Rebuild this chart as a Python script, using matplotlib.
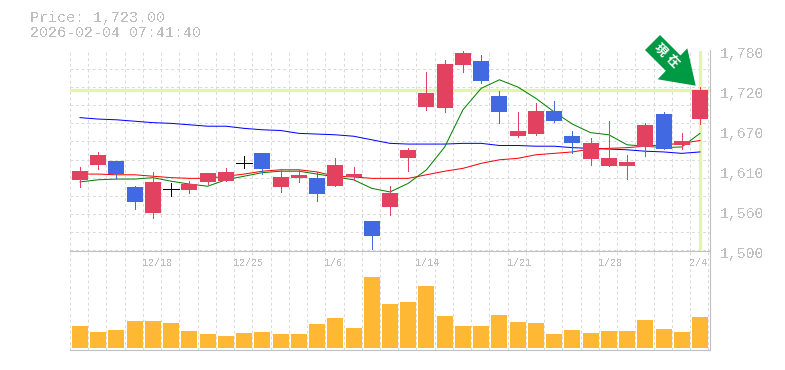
import numpy as np
import matplotlib
matplotlib.use('Agg')
import matplotlib.pyplot as plt
from matplotlib.patches import Polygon

plt.rcParams['text.antialiased'] = False

last_price = 1724
price_title = 'Price: 1,723.00'
time_title = '2026-02-04 07:41:40'

opens = [1599, 1620, 1625, 1589, 1553, 1586, 1585, 1596, 1597, 1622, 1636, 1589, 1602, 1601, 1590, 1603, 1541, 1561,
         1630, 1701, 1700, 1760, 1765, 1716, 1660, 1663, 1695, 1660, 1628, 1618, 1618, 1645, 1691, 1648, 1684]
highs = [1617, 1638, 1625, 1590, 1610, 1594, 1597, 1608, 1615, 1632, 1636, 1613, 1613, 1610, 1630, 1617, 1541, 1590,
         1643, 1750, 1767, 1779, 1774, 1723, 1694, 1706, 1709, 1667, 1658, 1681, 1634, 1678, 1694, 1664, 1729]
lows = [1589, 1614, 1601, 1558, 1545, 1576, 1580, 1593, 1597, 1615, 1607, 1582, 1596, 1569, 1590, 1599, 1502, 1550,
        1611, 1697, 1694, 1750, 1734, 1678, 1659, 1662, 1680, 1636, 1620, 1618, 1600, 1632, 1642, 1642, 1677]
closes = [1611, 1634, 1607, 1568, 1596, 1586, 1593, 1608, 1610, 1622, 1614, 1603, 1606, 1579, 1620, 1607, 1520, 1580,
          1641, 1720, 1761, 1776, 1737, 1694, 1667, 1695, 1681, 1650, 1650, 1630, 1624, 1676, 1642, 1653, 1724]
volumes = [22, 16, 18, 27, 27, 25, 17, 14, 12, 15, 16, 14, 14, 24, 30, 20, 71, 44,
           46, 62, 32, 22, 22, 33, 26, 25, 14, 18, 15, 17, 17, 28, 19, 16, 31]
ma_short = [1596, 1599, 1600, 1600, 1602, 1597, 1593, 1590, 1599, 1604, 1609, 1611, 1611, 1607, 1603, 1599, 1587, 1582,
            1594, 1613, 1645, 1697, 1727, 1739, 1729, 1713, 1694, 1677, 1665, 1662, 1648, 1646, 1644, 1645, 1664]
ma_mid = [1607, 1607, 1606, 1606, 1604, 1602, 1601, 1601, 1604, 1607, 1611, 1613, 1613, 1610, 1604, 1603, 1601, 1601,
          1601, 1606, 1611, 1615, 1622, 1627, 1629, 1634, 1636, 1638, 1642, 1643, 1644, 1646, 1648, 1650, 1654]
ma_long = [1686, 1684, 1683, 1681, 1679, 1678, 1676, 1674, 1674, 1671, 1669, 1668, 1664, 1663, 1662, 1660, 1655, 1650,
           1649, 1649, 1649, 1650, 1650, 1647, 1647, 1646, 1646, 1644, 1643, 1642, 1641, 1639, 1638, 1636, 1638]

date_index = [4, 9, 14, 19, 24, 29, 34]
date_labels = ['12/18', '12/25', '1/6', '1/14', '1/21', '1/28', '2/4']
price_ticks = [1500, 1556, 1612, 1668, 1724, 1780]
price_labels = ['1,500', '1,560', '1,610', '1,670', '1,720', '1,780']

up_color = '#e2415f'
down_color = '#4169e1'
vol_color = '#ffb833'
grid_color = '#d9d9d9'
frame_color = '#c0c0c0'
text_color = '#bdbdbd'
mark_color = '#e3f5aa'
arrow_color = '#009944'

W, H = 785, 370
fig = plt.figure(figsize=(W / 100, H / 100), dpi=100)
ax = fig.add_axes([70 / W, 1 - 250.5 / H, 640 / W, 200 / H])
ax_vol = fig.add_axes([70 / W, 1 - 350 / H, 640 / W, 99.5 / H])
ax_vol.set_facecolor('none')

x = np.arange(len(closes))
xmin, xmax = -0.548, 34.548

for a in (ax, ax_vol):
    a.set_xlim(xmin, xmax)
    a.set_xticks(np.arange(xmin, 34.5, 1))
    a.tick_params(length=0, labelbottom=False, labelleft=False)
    a.grid(axis='x', color=grid_color, linestyle=(0, (2.8, 2.8)), linewidth=0.72)
    a.set_axisbelow(True)
    for s in a.spines.values():
        s.set_visible(False)
    a.spines['bottom'].set_visible(True)
    a.spines['right'].set_visible(True)
    a.spines['bottom'].set_color(frame_color)
    a.spines['right'].set_color(frame_color)

ax.set_ylim(1500, 1780)
ax.set_yticks(np.linspace(1500, 1780, 12))
ax.grid(axis='y', color=grid_color, linestyle=(0, (2.8, 2.8)), linewidth=0.72)
ax_vol.set_ylim(-2, 97.5)
ax_vol.set_yticks([])

ax.axhline(last_price, color=mark_color, linewidth=2.4, zorder=1.5)
ax.plot([x[-1], x[-1]], [1501, 1780], color=mark_color, linewidth=2.4, solid_capstyle='butt', zorder=1.5)

ax.plot(x, ma_long, color='#0000ff', linewidth=0.72, zorder=2)
ax.plot(x, ma_mid, color='#ff0000', linewidth=0.72, zorder=2)
ax.plot(x, ma_short, color='#008000', linewidth=0.72, zorder=2)

for i in x:
    o, c = opens[i], closes[i]
    if o == c:
        col = 'black'
    elif c > o:
        col = up_color
    else:
        col = down_color
    ax.vlines(i, lows[i], highs[i], color=col, linewidth=0.72, zorder=3, antialiased=False)
    if o == c:
        ax.hlines(o, i - 0.44, i + 0.44, color=col, linewidth=0.72, zorder=3, antialiased=False)
    else:
        ax.bar(i, abs(c - o), bottom=min(o, c), width=0.88, color=col, linewidth=0, zorder=3, antialiased=False)

ax_vol.bar(x, volumes, width=0.88, color=vol_color, linewidth=0, zorder=3, antialiased=False)

for i, label in zip(date_index, date_labels):
    ax_vol.annotate(label, xy=(i, 1), xycoords=ax_vol.get_xaxis_transform(), xytext=(-10.7, -12.5),
                    textcoords='offset pixels', ha='left', va='center',
                    family='Liberation Mono', fontsize=7.2, color=text_color, annotation_clip=False)

for v, label in zip(price_ticks, price_labels):
    ax.annotate(label, xy=(1, v), xycoords=ax.get_yaxis_transform(), xytext=(10, -3.5),
                textcoords='offset pixels', ha='left', va='center',
                family='Liberation Mono', fontsize=10.7, color=frame_color, annotation_clip=False)

fig.text(30 / W, 1 - 18 / H, price_title, family='Liberation Mono', fontsize=10.8, color=text_color, va='center')
fig.text(30 / W, 1 - 33 / H, time_title, family='Liberation Mono', fontsize=10.8, color=text_color, va='center')

arrow_pts = [(660, 35), (645, 50), (665.8, 70.8), (657.7, 79.3), (695.7, 85.7), (687.3, 48.3), (680.5, 55.5)]
fig.add_artist(Polygon([(px / W, 1 - py / H) for px, py in arrow_pts], closed=True,
                       transform=fig.transFigure, facecolor=arrow_color, edgecolor='none', zorder=5))
fig.text(660.5 / W, 1 - 50 / H, '現', family='Noto Sans CJK JP', fontsize=9, fontweight='bold', color='white',
         rotation=-45, ha='center', va='center', zorder=6, rotation_mode='anchor', antialiased=True)
fig.text(672 / W, 1 - 61.5 / H, '在', family='Noto Sans CJK JP', fontsize=9, fontweight='bold', color='white',
         rotation=-45, ha='center', va='center', zorder=6, rotation_mode='anchor', antialiased=True)

fig.savefig('out.png', dpi=100)
